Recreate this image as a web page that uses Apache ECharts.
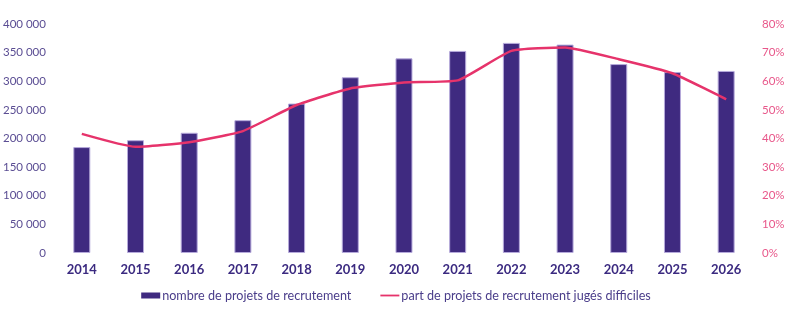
<!DOCTYPE html>
<html><head><meta charset="utf-8">
<script src="https://cdn.jsdelivr.net/npm/echarts@6/dist/echarts.min.js"></script>
<style>html,body{margin:0;padding:0;background:#fff}#c{width:792px;height:310px}</style>
</head><body><div id="c"></div>
<script>
const categories = ['2014','2015','2016','2017','2018','2019','2020','2021','2022','2023','2024','2025','2026'];
const projets = [185000,197000,210000,232000,261000,307000,340000,353000,367000,364000,330000,316000,318000];
const partDifficiles = [41.6,37.1,38.7,42.6,51.7,57.5,59.6,60.3,70.6,71.8,67.7,62.8,53.7];
const seriesNames = ['nombre de projets de recrutement','part de projets de recrutement jugés difficiles'];

const chart = echarts.init(document.getElementById('c'), null, {renderer:'canvas'});
const font = 'Lato, "Noto Sans", sans-serif';
chart.setOption({
  animation:false,
  grid:{left:53,right:39,top:24,bottom:57},
  legend:{
    bottom:3,left:'center',itemGap:29,itemWidth:19,itemHeight:6,
    textStyle:{color:'#4a3d8a',fontSize:12.6,fontFamily:font,padding:[0,0,0,-3]},
    data:[
      {name:seriesNames[0],icon:'rect',itemStyle:{color:'#3f2a80',borderWidth:0}},
      {name:seriesNames[1],icon:'path://M0,0 L0,0 M0,2.1 L19,2.1 L19,3.9 L0,3.9 Z M19,6 L19,6',
        itemStyle:{color:'#e6336b',borderWidth:0}}
    ]
  },
  xAxis:{type:'category',data:categories,
    axisLine:{show:false},axisTick:{show:false},
    axisLabel:{color:'#3b2a80',fontWeight:'bold',fontSize:13,fontFamily:font,margin:10}},
  yAxis:[
    {type:'value',min:0,max:400000,interval:50000,splitLine:{show:false},
      axisLine:{show:false},axisTick:{show:false},
      axisLabel:{color:'#5a4d93',fontSize:11.5,fontFamily:font,margin:9,
        formatter:v=>v===0?'0':String(v).replace(/\B(?=(\d{3})+(?!\d))/g,' ')}},
    {type:'value',min:0,max:80,interval:10,splitLine:{show:false},
      axisLine:{show:false},axisTick:{show:false},
      axisLabel:{color:'#e8578a',fontSize:11.5,fontFamily:font,margin:9,formatter:'{value}%'}}
  ],
  series:[
    {name:seriesNames[0],type:'bar',data:projets,barWidth:17,
      itemStyle:{color:'#3f2a80',borderColor:'#b6aadb',borderWidth:1}},
    {name:seriesNames[1],type:'line',yAxisIndex:1,data:partDifficiles,smooth:0.15,
      symbol:'none',lineStyle:{color:'#e6336b',width:2.5},itemStyle:{color:'#e6336b'}}
  ]
});
</script></body></html>
